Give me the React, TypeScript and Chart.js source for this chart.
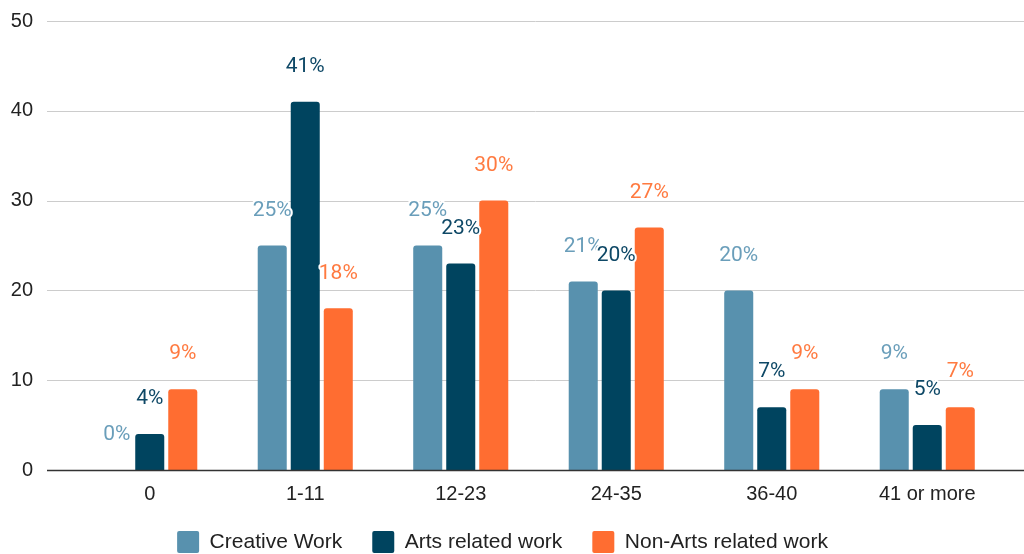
import React, { useEffect, useRef } from "react";
import { Chart, registerables } from "chart.js";

Chart.register(...registerables);

const categories = ["0", "1-11", "12-23", "24-35", "36-40", "41 or more"];
const creativeWork = [0, 25, 25, 21, 20, 9];
const artsRelated = [4, 41, 23, 20, 7, 5];
const nonArtsRelated = [9, 18, 30, 27, 9, 7];
const seriesNames = ["Creative Work", "Arts related work", "Non-Arts related work"];
const yTicks = { min: 0, max: 50, step: 10 };

const barColors = ["#5891AE", "#00445F", "#FF6D31"];
const labelColors = ["#6A9EBA", "#0E4866", "#FF7A40"];

const gridPlugin = {
  id: "fullGrid",
  beforeDatasetsDraw(chart: any) {
    const { ctx, scales } = chart;
    const y = scales.y;
    ctx.save();
    ctx.strokeStyle = "#CCCCCC";
    ctx.lineWidth = 1;
    y.ticks.forEach((t: any) => {
      if (t.value === 0) return;
      const py = Math.round(y.getPixelForValue(t.value)) + 0.5;
      ctx.beginPath();
      ctx.moveTo(47, py);
      ctx.lineTo(chart.width, py);
      ctx.stroke();
    });
    ctx.restore();
  },
  afterDatasetsDraw(chart: any) {
    const { ctx, scales } = chart;
    const y = scales.y;
    ctx.save();
    const py = Math.round(y.getPixelForValue(0)) + 0.5;
    ctx.strokeStyle = "#333333";
    ctx.lineWidth = 1.4;
    ctx.beginPath();
    ctx.moveTo(47, py);
    ctx.lineTo(chart.width, py);
    ctx.stroke();

    ctx.font = "21px Roboto";
    ctx.textAlign = "center";
    ctx.textBaseline = "middle";
    ctx.lineJoin = "round";
    chart.data.datasets.forEach((ds: any, di: number) => {
      const meta = chart.getDatasetMeta(di);
      meta.data.forEach((bar: any, i: number) => {
        const txt = ds.data[i] + "%";
        const ly = bar.y - 35;
        ctx.strokeStyle = "#FFFFFF";
        ctx.lineWidth = 4;
        ctx.strokeText(txt, bar.x, ly);
        ctx.fillStyle = labelColors[di];
        ctx.fillText(txt, bar.x, ly);
      });
    });
    ctx.restore();
  },
};

export default function App() {
  const ref = useRef<HTMLCanvasElement>(null);
  useEffect(() => {
    if (!ref.current) return;
    const seriesData = [creativeWork, artsRelated, nonArtsRelated];
    const chart = new Chart(ref.current, {
      type: "bar",
      data: {
        labels: categories,
        datasets: seriesData.map((d, i) => ({
          label: seriesNames[i],
          data: d,
          backgroundColor: barColors[i],
          borderWidth: 0,
          borderRadius: { topLeft: 3, topRight: 3, bottomLeft: 0, bottomRight: 0 },
          borderSkipped: false,
          barPercentage: 0.879,
          categoryPercentage: 0.637,
        })),
      },
      options: {
        responsive: false,
        animation: false,
        layout: { padding: { top: 21, right: 19, bottom: -9, left: 0 } },
        plugins: {
          tooltip: { enabled: false },
          legend: {
            position: "bottom",
            labels: {
              boxWidth: 22,
              boxHeight: 22,
              padding: 30,
              useBorderRadius: true,
              borderRadius: 2,
              color: "#222222",
              font: { family: "'Liberation Sans', Arial, sans-serif", size: 21 },
            },
          },
        },
        scales: {
          x: {
            grid: { display: false, drawTicks: false },
            border: { display: false },
            ticks: {
              color: "#222222",
              padding: 12,
              font: { family: "'Liberation Sans', Arial, sans-serif", size: 20 },
            },
            afterFit: (s: any) => {
              s.height = 31;
            },
          },
          y: {
            min: yTicks.min,
            max: yTicks.max,
            grid: { display: false, drawTicks: true, tickLength: 39 },
            border: { display: false },
            ticks: {
              stepSize: yTicks.step,
              color: "#222222",
              padding: 0,
              font: { family: "'Liberation Sans', Arial, sans-serif", size: 20 },
            },
            afterFit: (s: any) => {
              s.width = 72;
            },
          },
        },
      },
      plugins: [gridPlugin],
    });
    return () => chart.destroy();
  }, []);
  return (
    <div style={{ position: "absolute", left: 0, top: 0, width: 1024, height: 554, background: "#fff" }}>
      <canvas ref={ref} width={1024} height={554} style={{ display: "block" }} />
    </div>
  );
}
